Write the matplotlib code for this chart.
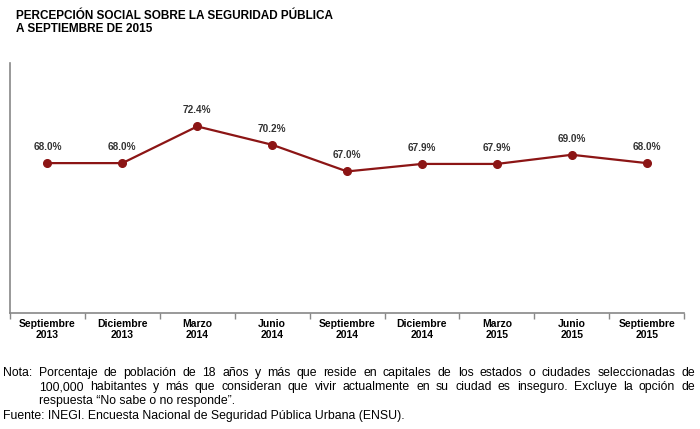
import matplotlib.pyplot as plt

periodos = ["Septiembre\n2013", "Diciembre\n2013", "Marzo\n2014", "Junio\n2014",
            "Septiembre\n2014", "Diciembre\n2014", "Marzo\n2015", "Junio\n2015",
            "Septiembre\n2015"]
porcentajes = [68.0, 68.0, 72.4, 70.2, 67.0, 67.9, 67.9, 69.0, 68.0]

titulo = "PERCEPCIÓN SOCIAL SOBRE LA SEGURIDAD PÚBLICA\nA SEPTIEMBRE DE 2015"
nota = [
    "Porcentaje de población de 18 años y más que reside en capitales de los estados o ciudades seleccionadas de",
    "100,000 habitantes y más que consideran que vivir actualmente en su ciudad es inseguro. Excluye la opción de",
    "respuesta \u201cNo sabe o no responde\u201d.",
]
fuente = "Fuente: INEGI. Encuesta Nacional de Seguridad Pública Urbana (ENSU)."

plt.rcParams['font.family'] = ['Liberation Sans', 'DejaVu Sans']

W, H = 700, 429
fig = plt.figure(figsize=(7, 4.29), dpi=100)
ax = fig.add_axes([0.0143, 0.270, 0.963, 0.583])

x = range(len(porcentajes))
color = '#8c1515'
ax.plot(x, porcentajes, color=color, lw=1.6, marker='o', ms=5.5)
for xi, v in zip(x, porcentajes):
    ax.annotate(f"{v:.1f}%", (xi, v), xytext=(0, 8), textcoords='offset points',
                ha='center', va='bottom', fontsize=7.2, fontweight='bold', color='#333333')

ax.set_xlim(-0.5, len(porcentajes) - 0.5)
ax.set_ylim(50, 80)
ax.set_yticks([])
ax.set_xticks([i - 0.5 for i in range(len(porcentajes) + 1)])
ax.set_xticklabels([])
ax.set_xticks(list(x), minor=True)
ax.set_xticklabels(periodos, minor=True, fontsize=7.5, fontweight='bold')
ax.tick_params(axis='x', which='major', length=4, color='#888888', width=1)
ax.tick_params(axis='x', which='minor', length=0, pad=4)
for s in ['top', 'right']:
    ax.spines[s].set_visible(False)
for s in ['left', 'bottom']:
    ax.spines[s].set_color('#888888')
    ax.spines[s].set_linewidth(1.2)

fig.text(16 / W, 1 - 10 / H, titulo, ha='left', va='top', fontsize=8.5,
         fontweight='bold', linespacing=1.1)

fs = 8.8
renderer = fig.canvas.get_renderer()


def justified(line, x0, x1, y):
    # place words so the line fills x0..x1 (pixels), y is the baseline
    words = line.split()
    texts = [fig.text(0, 1 - y / H, w, ha='left', va='baseline', fontsize=fs) for w in words]
    widths = [t.get_window_extent(renderer).width for t in texts]
    gap = (x1 - x0 - sum(widths)) / (len(words) - 1)
    pos = x0
    for t, w in zip(texts, widths):
        t.set_x(pos / W)
        pos += w + gap


fig.text(3 / W, 1 - 376 / H, "Nota:", ha='left', va='baseline', fontsize=fs)
justified(nota[0], 39, 695, 376)
justified(nota[1], 39, 695, 390)
fig.text(39 / W, 1 - 404 / H, nota[2], ha='left', va='baseline', fontsize=fs)
fig.text(3 / W, 1 - 419 / H, fuente, ha='left', va='baseline', fontsize=fs)

fig.savefig("out.png", dpi=100)
